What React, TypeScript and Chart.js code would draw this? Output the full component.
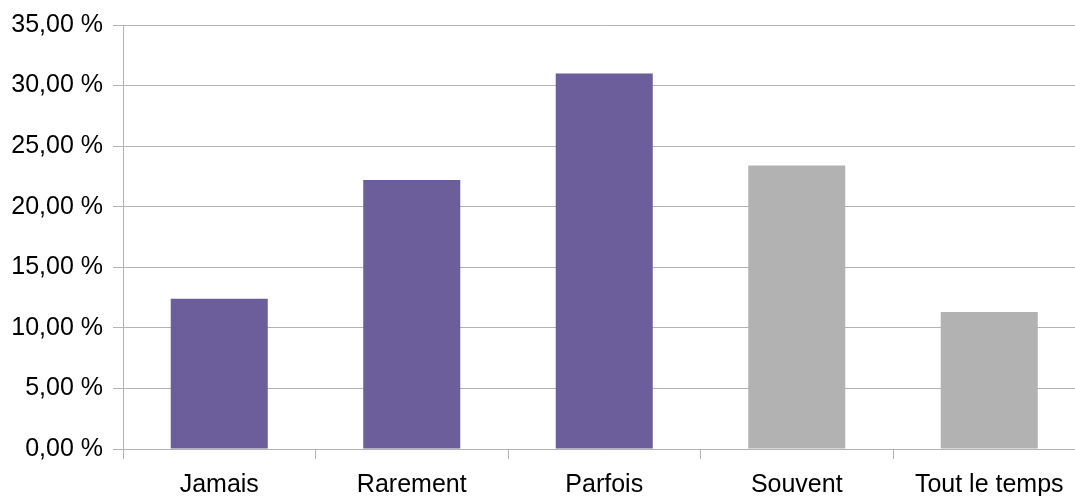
import React, { useEffect, useRef } from "react";
import { Chart, registerables } from "chart.js";

Chart.register(...registerables);

const categories = ["Jamais", "Rarement", "Parfois", "Souvent", "Tout le temps"];
const values = [12.4, 22.2, 31.0, 23.4, 11.3];
const barColors = ["#6B5E9B", "#6B5E9B", "#6B5E9B", "#B2B2B2", "#B2B2B2"];
const yMin = 0;
const yMax = 35;
const yStep = 5;

export default function App() {
  const ref = useRef<HTMLCanvasElement>(null);
  useEffect(() => {
    document.body.style.overflow = "hidden";
    const ctx = ref.current!;
    const chart = new Chart(ctx, {
      type: "bar",
      data: {
        labels: categories,
        datasets: [
          {
            data: values,
            backgroundColor: barColors,
            borderWidth: 0,
            categoryPercentage: 1,
            barPercentage: 0.504,
          },
        ],
      },
      options: {
        responsive: false,
        animation: false,
        devicePixelRatio: 1,
        layout: { padding: { left: 0, top: 25, right: 14.5, bottom: 0 } },
        plugins: { legend: { display: false }, tooltip: { enabled: false } },
        scales: {
          x: {
            grid: {
              offset: true,
              drawOnChartArea: false,
              drawTicks: true,
              tickLength: 10,
              color: "#b3b3b3",
              lineWidth: 1,
            },
            border: { display: false },
            ticks: {
              color: "#000",
              font: { family: "'Liberation Sans', Arial, sans-serif", size: 25 },
              padding: 11,
              maxRotation: 0,
              autoSkip: false,
            },
            afterFit: (scale: any) => {
              scale.height = 47;
            },
          },
          y: {
            min: yMin,
            max: yMax,
            grid: {
              color: "#b3b3b3",
              lineWidth: 1,
              drawTicks: true,
              tickLength: 10,
            },
            border: { display: true, color: "#b3b3b3", width: 1 },
            ticks: {
              stepSize: yStep,
              color: "#000",
              font: { family: "'Liberation Sans', Arial, sans-serif", size: 25 },
              padding: 10,
              callback: (v: any) => Number(v).toFixed(2).replace(".", ",") + " %",
            },
            afterFit: (scale: any) => {
              scale.width = 123;
            },
          },
        },
      },
    });
    return () => chart.destroy();
  }, []);
  return (
    <div
      style={{
        position: "absolute",
        left: 0,
        top: 0,
        width: 1075,
        height: 496,
        overflow: "hidden",
        background: "#fff",
      }}
    >
      <canvas ref={ref} width={1100} height={496} style={{ display: "block" }} />
    </div>
  );
}
